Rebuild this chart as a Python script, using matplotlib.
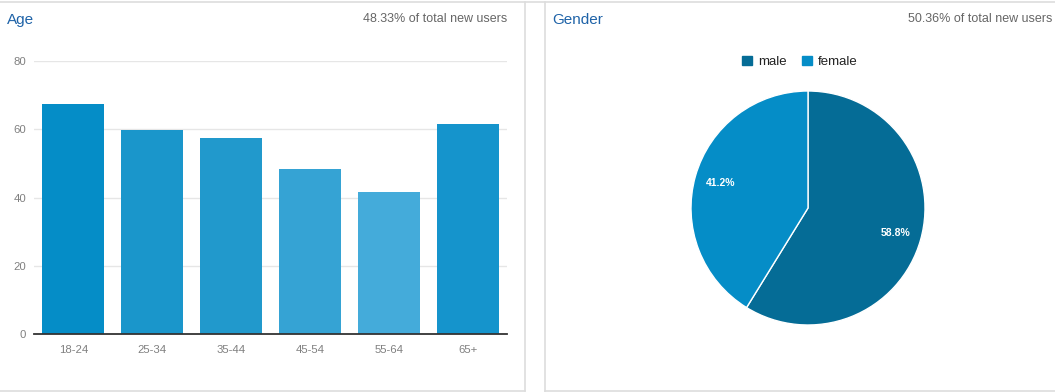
import matplotlib
matplotlib.use("Agg")
import matplotlib.pyplot as plt
from matplotlib.lines import Line2D
from matplotlib.patches import Patch

plt.rcParams['font.family'] = ['Liberation Sans', 'DejaVu Sans']

# Data
age_groups = ["18-24", "25-34", "35-44", "45-54", "55-64", "65+"]
age_values = [67.4, 59.8, 57.4, 48.4, 41.6, 61.5]
age_colors = ["#058DC7", "#1A96CB", "#2199CC", "#35A3D4", "#44ABDA", "#1594CC"]
y_ticks = [0, 20, 40, 60, 80]

gender_labels = ["male", "female"]
gender_values = [58.8, 41.2]
gender_colors = ["#056C96", "#058DC7"]

age_title = "Age"
age_share = "48.33% of total new users"
gender_title = "Gender"
gender_share = "50.36% of total new users"

W, H = 1055, 392
fig = plt.figure(figsize=(W / 100, H / 100), dpi=100)
fig.patch.set_facecolor("white")

def fx(px):
    return px / W

def fy(py):
    return 1 - py / H

# Panel borders
border = "#DDDDDD"
fig.add_artist(Line2D([0, 1], [fy(2), fy(2)], color=border, lw=1.2))
fig.add_artist(Line2D([fx(524.5), fx(524.5)], [fy(2), fy(390.5)], color=border, lw=1.2))
fig.add_artist(Line2D([0, fx(524.5)], [fy(390.5), fy(390.5)], color=border, lw=1.2))
fig.add_artist(Line2D([fx(544.5), fx(544.5)], [fy(2), 0], color=border, lw=1.2))
fig.add_artist(Line2D([fx(544.5), 1], [fy(390.5), fy(390.5)], color=border, lw=1.2))

# Titles
title_color = "#1F63A8"
sub_color = "#666666"
fig.text(fx(7), fy(20), age_title, color=title_color, fontsize=11, va="center", ha="left")
fig.text(fx(507), fy(19), age_share, color=sub_color, fontsize=9, va="center", ha="right")
fig.text(fx(552), fy(20), gender_title, color=title_color, fontsize=11, va="center", ha="left")
fig.text(fx(1052), fy(19), gender_share, color=sub_color, fontsize=9, va="center", ha="right")

# Bar chart
ax = fig.add_axes([fx(34), fy(334), fx(507) - fx(34), (334 - 61) / H])
x = list(range(len(age_groups)))
ax.bar(x, age_values, width=0.785, color=age_colors, zorder=2)
ax.set_xlim(-0.5, len(age_groups) - 0.5)
ax.set_ylim(0, 80)
ax.set_yticks(y_ticks)
ax.set_xticks(x)
ax.set_xticklabels(age_groups)
ax.yaxis.grid(True, color="#E6E6E6", lw=1, zorder=0)
for s in ["top", "right", "left"]:
    ax.spines[s].set_visible(False)
ax.spines["bottom"].set_color("#333333")
ax.spines["bottom"].set_linewidth(1.3)
ax.spines["bottom"].set_zorder(3)
ax.tick_params(axis="both", length=0, labelsize=8.2, labelcolor="#808080")
ax.tick_params(axis="y", pad=5.5)
ax.tick_params(axis="x", pad=8)

# Pie chart
cx, cy, r = 808, 208, 117
pax = fig.add_axes([fx(cx - r), fy(cy + r), 2 * r / W, 2 * r / H])
wedges, texts, autotexts = pax.pie(
    gender_values, colors=gender_colors, startangle=90, counterclock=False,
    autopct="%.1f%%", pctdistance=0.78,
    wedgeprops=dict(edgecolor="white", linewidth=1.0),
    textprops=dict(color="white", fontsize=7.5, fontweight="bold"))
pax.set_xlim(-1.0, 1.0)
pax.set_ylim(-1.0, 1.0)
pax.set_aspect("equal")
pax.axis("off")

# Legend
handles = [Patch(facecolor=c, edgecolor=c) for c in gender_colors]
leg = fig.legend(handles, gender_labels, loc="center", bbox_to_anchor=(fx(800), fy(62)),
                 ncol=2, frameon=False, fontsize=9.5, handlelength=0.75, handleheight=0.75,
                 handletextpad=0.5, columnspacing=1.1)
for t in leg.get_texts():
    t.set_color("#222222")

fig.savefig("out.png", dpi=100, facecolor="white")
